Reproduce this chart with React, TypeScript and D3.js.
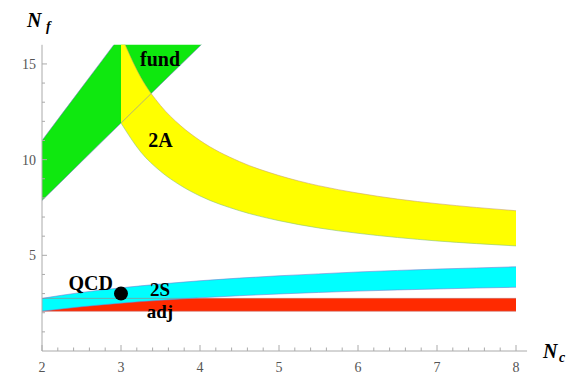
import React from 'react'
import * as d3 from 'd3'

// values (Nf boundaries of each band)
const fundNc = [2, 2.5, 3, 3.5, 4, 4.5]
const fundUpper = [11, 13.75, 16.5, 19.25, 22, 24.75]
const fundLower = [7.86, 9.89, 11.91, 13.93, 15.94, 17.95]

const twoANc = [3, 3.25, 3.5, 3.75, 4, 4.5, 5, 5.5, 6, 6.5, 7, 7.5, 8]
const twoAUpper = [16.5, 14.3, 12.83, 11.79, 11, 9.9, 9.17, 8.64, 8.25, 7.94, 7.7, 7.5, 7.33]
const twoALower = [11.91, 10.4, 9.39, 8.66, 8.1, 7.33, 6.81, 6.43, 6.15, 5.93, 5.75, 5.61, 5.49]

const twoSNc = [2, 2.5, 3, 3.5, 4, 4.5, 5, 5.5, 6, 6.5, 7, 7.5, 8]
const twoSUpper = [2.75, 3.06, 3.3, 3.5, 3.67, 3.81, 3.93, 4.03, 4.13, 4.21, 4.28, 4.34, 4.4]
const twoSLower = [2.08, 2.31, 2.5, 2.65, 2.78, 2.89, 2.98, 3.06, 3.13, 3.19, 3.24, 3.29, 3.33]

const adjNc = [2, 8]
const adjUpper = [2.75, 2.75]
const adjLower = [2.08, 2.08]

const qcd = { nc: 3, nf: 3 }

const xTicks = [2, 3, 4, 5, 6, 7, 8]
const yTicks = [5, 10, 15]

const W = 577
const H = 374

export default function App() {
  const x = d3.scaleLinear().domain([2, 8]).range([42, 516])
  const y = d3.scaleLinear().domain([0, 16]).range([351, 44.8])

  const band = (nc: number[], lo: number[], hi: number[]) => {
    const rows = nc.map((n, i) => ({ n, lo: lo[i], hi: hi[i] }))
    const area = d3.area<any>().x(d => x(d.n)).y0(d => y(d.lo)).y1(d => y(d.hi)).curve(d3.curveMonotoneX)
    const lineLo = d3.line<any>().x(d => x(d.n)).y(d => y(d.lo)).curve(d3.curveMonotoneX)
    const lineHi = d3.line<any>().x(d => x(d.n)).y(d => y(d.hi)).curve(d3.curveMonotoneX)
    return { area: area(rows) || '', lo: lineLo(rows) || '', hi: lineHi(rows) || '' }
  }

  const bands = [
    { ...band(fundNc, fundLower, fundUpper), fill: '#10e810', hiC: '#7a7ad0', loC: '#7a7ad0' },
    { ...band(twoANc, twoALower, twoAUpper), fill: '#ffff00', hiC: '#c8a070', loC: '#80c080' },
    { ...band(adjNc, adjLower, adjUpper), fill: '#ff2a00', hiC: '#c07070', loC: '#c07070' },
    { ...band(twoSNc, twoSLower, twoSUpper), fill: '#00ffff', hiC: '#7a7ad0', loC: '#7a7ad0' },
  ]

  const minorX = d3.range(2, 8.01, 0.2).filter(v => Math.abs(v - Math.round(v)) > 0.01)
  const minorY = d3.range(1, 16, 1).filter(v => v % 5 !== 0)
  const axisC = '#aaa'
  const tickFont = { fontFamily: 'Liberation Serif, serif', fontSize: 14, fill: '#555' }
  const lab = { fontFamily: 'Liberation Serif, serif', fontSize: 20, fontWeight: 'bold' as const, fill: '#000' }

  return (
    <svg width={W} height={H} style={{ position: 'absolute', left: 0, top: 0 }}>
      <defs>
        <clipPath id="plot">
          <rect x={x(2)} y={y(16)} width={x(8) - x(2) + 1} height={y(0) - y(16)} />
        </clipPath>
      </defs>
      <g clipPath="url(#plot)">
        {bands.map((b, i) => <path key={'a' + i} d={b.area} fill={b.fill} stroke="none" />)}
        {bands.map((b, i) => (
          <g key={'l' + i} fill="none" strokeWidth={0.8} opacity={0.7}>
            <path d={b.hi} stroke={b.hiC} />
            <path d={b.lo} stroke={b.loC} />
          </g>
        ))}
      </g>

      {/* axes */}
      <line x1={x(2)} x2={x(8.14)} y1={y(0)} y2={y(0)} stroke={axisC} />
      <line x1={x(2)} x2={x(2)} y1={y(0)} y2={y(16)} stroke={axisC} />
      {xTicks.map(t => (
        <g key={'xt' + t}>
          <line x1={x(t)} x2={x(t)} y1={y(0)} y2={y(0) - 6} stroke={axisC} />
          <text x={x(t)} y={372} textAnchor="middle" {...tickFont}>{t}</text>
        </g>
      ))}
      {minorX.map(t => <line key={'xm' + t} x1={x(t)} x2={x(t)} y1={y(0)} y2={y(0) - 3.5} stroke={axisC} />)}
      {yTicks.map(t => (
        <g key={'yt' + t}>
          <line x1={x(2)} x2={x(2) + 5} y1={y(t)} y2={y(t)} stroke={axisC} />
          <text x={36} y={y(t) + 5} textAnchor="end" {...tickFont}>{t}</text>
        </g>
      ))}
      {minorY.map(t => <line key={'ym' + t} x1={x(2)} x2={x(2) + 3} y1={y(t)} y2={y(t)} stroke={axisC} />)}

      {/* QCD point */}
      <circle cx={x(qcd.nc)} cy={y(qcd.nf)} r={7} fill="#000" />

      {/* labels */}
      <text x={160} y={66} textAnchor="middle" {...lab}>fund</text>
      <text x={160.5} y={147} textAnchor="middle" {...lab}>2A</text>
      <text x={113} y={290} textAnchor="end" {...lab}>QCD</text>
      <text x={160} y={296} textAnchor="middle" {...lab} fontSize={19}>2S</text>
      <text x={160} y={318} textAnchor="middle" {...lab} fontSize={19}>adj</text>

      {/* axis titles */}
      <text x={27} y={27} {...lab} fontStyle="italic">N</text>
      <text x={46} y={31} {...lab} fontSize={14} fontStyle="italic">f</text>
      <text x={543} y={358} {...lab} fontStyle="italic">N</text>
      <text x={559} y={362} {...lab} fontSize={14} fontStyle="italic">c</text>
    </svg>
  )
}
